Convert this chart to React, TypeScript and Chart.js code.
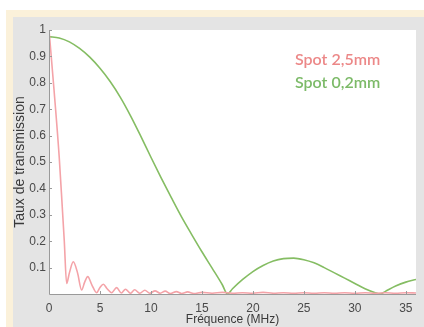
import React, { useEffect, useRef } from "react";
import { Chart, registerables } from "chart.js";

Chart.register(...registerables);

// Frequency (MHz) / transmission readings
const spotLargeFreq = [0, 0.5, 1.0, 1.3, 1.5, 1.73, 2.0, 2.38, 2.8, 3.2, 3.5, 3.8, 4.2, 4.67, 5.0, 5.33, 5.7, 6.15, 6.63, 7.1, 7.5, 8.0, 8.4, 8.9, 9.4, 9.9, 10.4, 10.9, 11.4, 11.9, 12.5, 13.0, 13.6, 14.2, 15, 16, 17, 18, 19, 20, 21, 22, 23, 24, 25, 26, 27, 28, 29, 30, 31, 32, 33, 34, 35, 36];
const spotLargeVal = [1.0, 0.77, 0.52, 0.33, 0.2, 0.04, 0.08, 0.122, 0.08, 0.015, 0.045, 0.066, 0.035, 0.005, 0.025, 0.037, 0.02, 0.005, 0.024, 0.004, 0.018, 0.003, 0.016, 0.003, 0.014, 0.003, 0.012, 0.003, 0.011, 0.002, 0.009, 0.002, 0.008, 0.002, 0.006, 0.003, 0.006, 0.003, 0.005, 0.003, 0.006, 0.003, 0.005, 0.003, 0.005, 0.003, 0.005, 0.003, 0.005, 0.003, 0.005, 0.003, 0.005, 0.003, 0.005, 0.004];

const spotSmallFreq = [0, 1, 2, 3, 4, 5, 6, 7, 8, 9, 10, 11, 12, 13, 14, 15, 16, 17, 17.5, 18, 19, 20, 21, 22, 23, 24, 25, 26, 27, 28, 29, 30, 31, 32, 32.5, 33, 34, 35, 36];
const spotSmallVal = [0.975, 0.97, 0.955, 0.93, 0.897, 0.855, 0.805, 0.745, 0.675, 0.598, 0.518, 0.44, 0.365, 0.292, 0.225, 0.16, 0.098, 0.035, 0.0, 0.02, 0.055, 0.085, 0.108, 0.125, 0.134, 0.136, 0.13, 0.118, 0.1, 0.08, 0.06, 0.04, 0.02, 0.005, 0.0, 0.01, 0.03, 0.045, 0.055];

const xTicks = [0, 5, 10, 15, 20, 25, 30, 35];
const yTicks = [0.1, 0.2, 0.3, 0.4, 0.5, 0.6, 0.7, 0.8, 0.9, 1];

const legendLabels = ["Spot 2,5mm", "Spot 0,2mm"];
const seriesColors = ["#f4a3a8", "#85bd63"];
const legendColors = ["#ec8888", "#7cba68"];

const W = 424;
const H = 327;

export default function App() {
  const ref = useRef<HTMLCanvasElement | null>(null);

  useEffect(() => {
    document.body.style.margin = "0";
    const canvas = ref.current;
    if (!canvas) return;

    const bgPlugin = {
      id: "bg",
      beforeDraw(chart: any) {
        const { ctx, chartArea } = chart;
        ctx.save();
        ctx.fillStyle = "#ffffff";
        ctx.fillRect(0, 0, W, H);
        ctx.fillStyle = "#fbf1da";
        ctx.fillRect(6, 10, W - 6, H - 10);
        ctx.fillStyle = "#e4e4e4";
        ctx.fillRect(13, 17, W - 13, H - 17);
        ctx.fillStyle = "#ffffff";
        ctx.fillRect(chartArea.left, chartArea.top, chartArea.right - chartArea.left, chartArea.bottom - chartArea.top);
        ctx.restore();
      },
      afterDatasetsDraw(chart: any) {
        const { ctx, chartArea, scales } = chart;
        ctx.save();
        ctx.strokeStyle = "#9a9a9a";
        ctx.lineWidth = 1;
        ctx.beginPath();
        ctx.moveTo(chartArea.left + 0.5, chartArea.top);
        ctx.lineTo(chartArea.left + 0.5, chartArea.bottom + 0.5);
        ctx.lineTo(chartArea.right, chartArea.bottom + 0.5);
        ctx.stroke();
        ctx.beginPath();
        for (const v of xTicks) {
          const px = Math.round(scales.x.getPixelForValue(v)) + 0.5;
          ctx.moveTo(px, chartArea.bottom);
          ctx.lineTo(px, chartArea.bottom - 3);
        }
        for (const v of yTicks) {
          const py = Math.round(scales.y.getPixelForValue(v)) + 0.5;
          ctx.moveTo(chartArea.left, py);
          ctx.lineTo(chartArea.left + 3, py);
        }
        ctx.stroke();
        ctx.font = "600 16px Lato";
        ctx.textAlign = "left";
        ctx.textBaseline = "alphabetic";
        ctx.fillStyle = legendColors[0];
        ctx.fillText(legendLabels[0], 295, 65);
        ctx.fillStyle = legendColors[1];
        ctx.fillText(legendLabels[1], 295, 88);
        ctx.restore();
      },
    };

    const chart = new Chart(canvas, {
      type: "line",
      data: {
        datasets: [
          {
            label: legendLabels[0],
            data: spotLargeFreq.map((f, i) => ({ x: f, y: spotLargeVal[i] })),
            borderColor: seriesColors[0],
            borderWidth: 1.6,
            pointRadius: 0,
            cubicInterpolationMode: "monotone",
            fill: false,
          },
          {
            label: legendLabels[1],
            data: spotSmallFreq.map((f, i) => ({ x: f, y: spotSmallVal[i] })),
            borderColor: seriesColors[1],
            borderWidth: 1.6,
            pointRadius: 0,
            cubicInterpolationMode: "monotone",
            fill: false,
          },
        ],
      },
      options: {
        animation: false,
        responsive: false,
        maintainAspectRatio: false,
        devicePixelRatio: 1,
        layout: { padding: { left: 0, right: 8, top: 30, bottom: 0 } },
        plugins: {
          legend: { display: false },
          tooltip: { enabled: false },
          title: { display: false },
        },
        scales: {
          x: {
            type: "linear",
            min: 0,
            max: 36,
            grid: { display: false, drawTicks: false },
            border: { display: false },
            afterBuildTicks: (s: any) => {
              s.ticks = xTicks.map((v) => ({ value: v }));
            },
            afterFit: (s: any) => {
              s.height = 33;
            },
            ticks: {
              padding: 7,
              color: "#4a4a4a",
              font: { family: "Liberation Sans", size: 12 },
              maxRotation: 0,
              autoSkip: false,
            },
            title: {
              display: true,
              text: "Fréquence (MHz)",
              color: "#3a3a3a",
              font: { family: "Liberation Sans", size: 12 },
              padding: { top: 3, bottom: 0 },
            },
          },
          y: {
            type: "linear",
            min: 0,
            max: 1,
            grid: { display: false, drawTicks: false },
            border: { display: false },
            afterBuildTicks: (s: any) => {
              s.ticks = yTicks.map((v) => ({ value: v }));
            },
            afterFit: (s: any) => {
              s.width = 49;
            },
            ticks: {
              padding: 3,
              color: "#4a4a4a",
              font: { family: "Liberation Sans", size: 12 },
              autoSkip: false,
              callback: (v: any) => String(Math.round(Number(v) * 10) / 10),
            },
            title: {
              display: true,
              text: "Taux de transmission",
              color: "#3a3a3a",
              font: { family: "Liberation Sans", size: 14 },
              padding: { top: 12, bottom: 0 },
            },
          },
        },
      },
      plugins: [bgPlugin],
    });

    return () => chart.destroy();
  }, []);

  return (
    <div style={{ position: "fixed", left: 0, top: 0, width: W, height: H }}>
      <canvas ref={ref} width={W} height={H} style={{ display: "block", width: W, height: H }} />
    </div>
  );
}
